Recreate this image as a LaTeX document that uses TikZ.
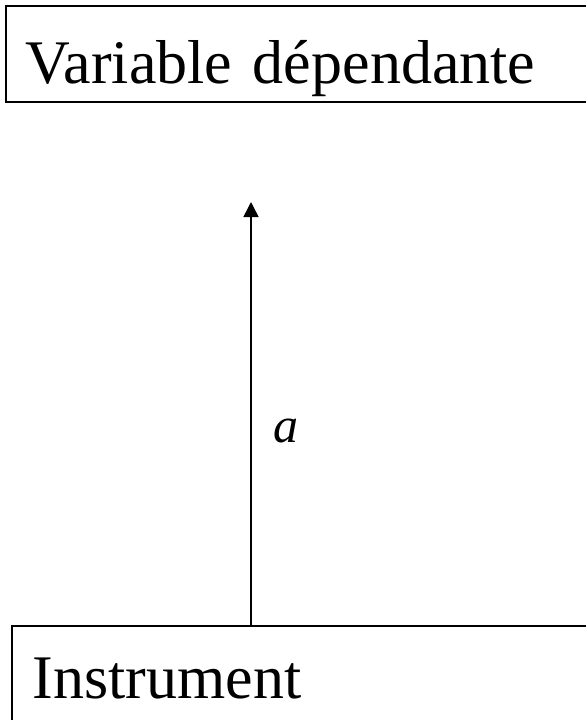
\documentclass[tikz,border=0pt]{standalone}
\usepackage{fontspec}
\setmainfont{Liberation Serif}
\usetikzlibrary{arrows.meta}
\tikzset{
  varbox/.style={draw, line width=1.5pt, anchor=north west, inner ysep=0pt, align=left,
    font=\fontsize{62}{70}\selectfont},
  conn/.style={line width=1.5pt, -{Triangle[length=15pt,width=15pt]}},
  lab/.style={font=\fontsize{50}{56}\selectfont\itshape}
}
\begin{document}
\begin{tikzpicture}[x=1pt,y=1pt]
\useasboundingbox (0,0) rectangle (586,-720);
\clip (0,0) rectangle (586,-720);
\node[varbox, inner xsep=20pt, text width=560pt, text height=78pt, text depth=18pt] (top) at (5,-5) {Variable dépendante};
\node[varbox, inner xsep=21pt, text width=547pt, text height=73pt, text depth=40pt] (bot) at (11,-625) {Instrument};
\coordinate (tip) at (251,-202);
\draw[conn] (bot.north -| tip) -- node[lab, pos=0.459, xshift=35pt] (lbl) {a} (tip);
\end{tikzpicture}
\end{document}
